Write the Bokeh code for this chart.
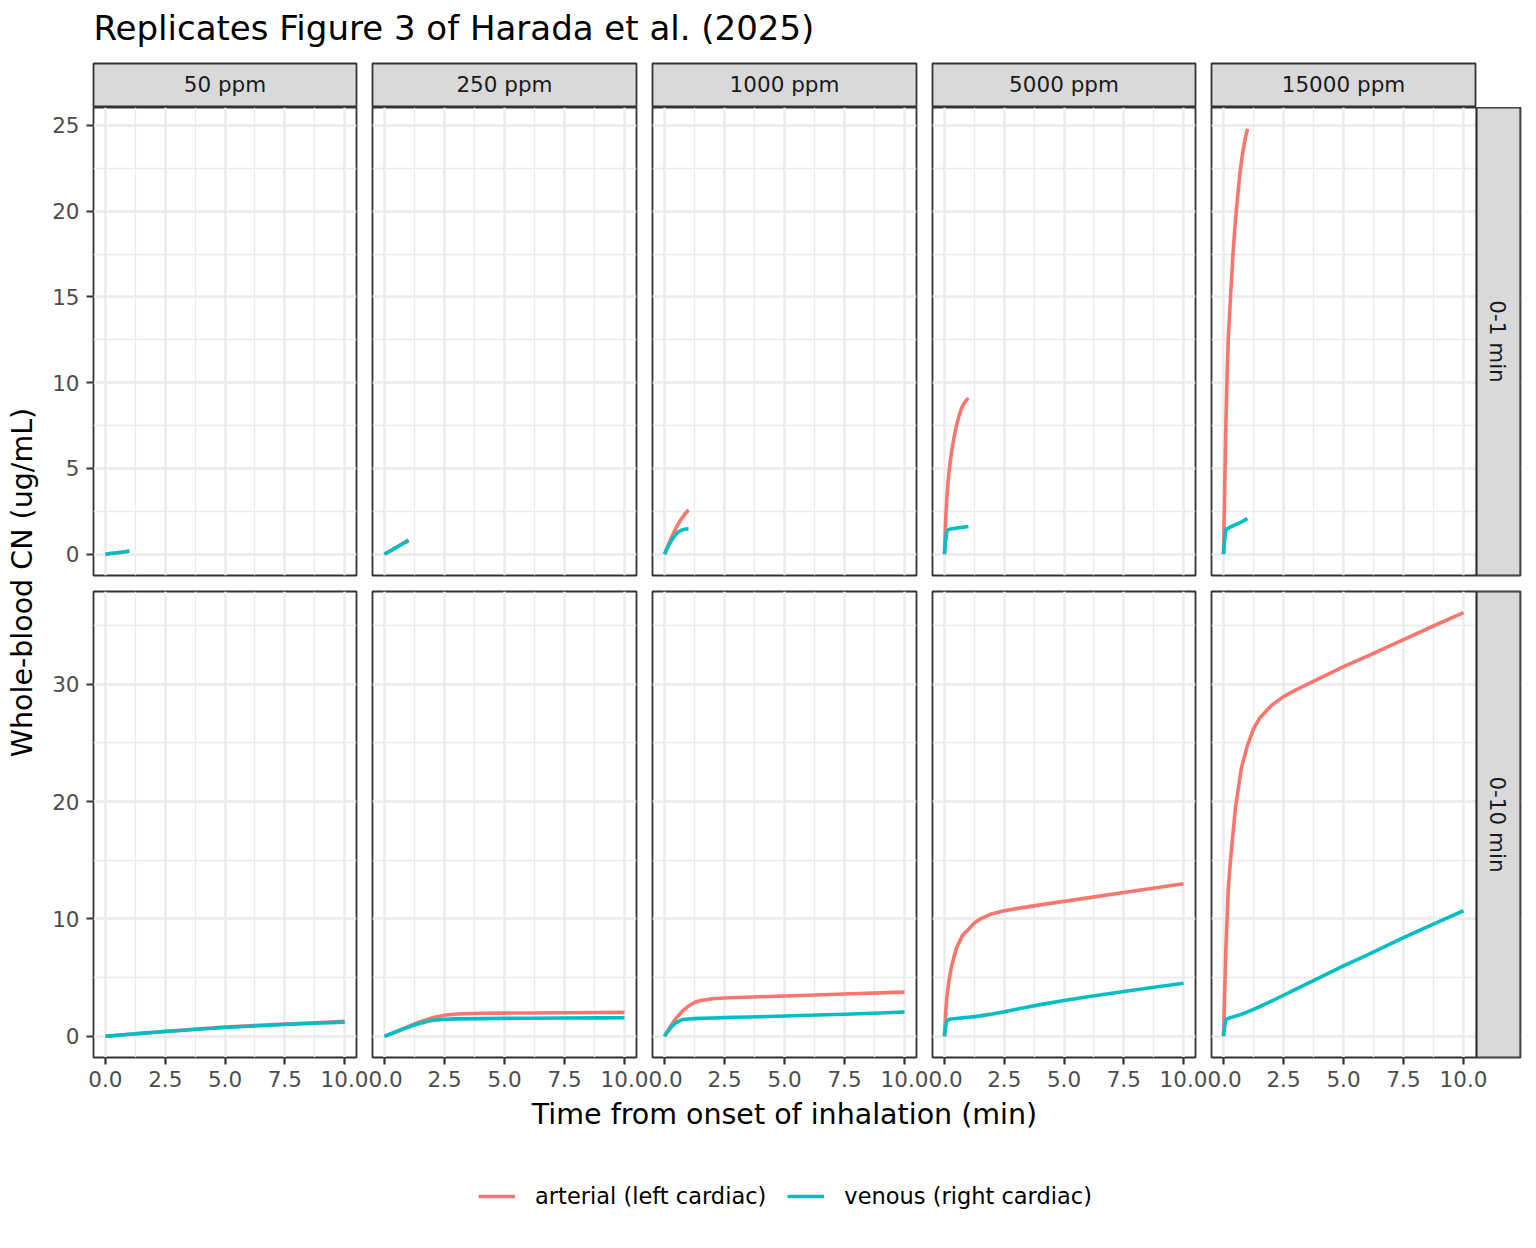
import math
from bokeh.plotting import figure
from bokeh.models import Range1d, FixedTicker, NumeralTickFormatter, Legend, LegendItem
from bokeh.layouts import row, column
from bokeh.core.properties import value
from bokeh.embed import file_html
from bokeh.resources import INLINE

# ---------------- data ----------------
concentrations = ["50 ppm", "250 ppm", "1000 ppm", "5000 ppm", "15000 ppm"]
windows = ["0-1 min", "0-10 min"]
series_labels = ["arterial (left cardiac)", "venous (right cardiac)"]

x_ticks = [0, 2.5, 5, 7.5, 10]
x_minor = [1.25, 3.75, 6.25, 8.75]
y_ticks_short = [0, 5, 10, 15, 20, 25]
y_minor_short = [2.5, 7.5, 12.5, 17.5, 22.5]
y_ticks_long = [0, 10, 20, 30]
y_minor_long = [5, 15, 25, 35]

# 0-1 min window
t_short = [0, 0.05, 0.1, 0.15, 0.2, 0.3, 0.4, 0.5, 0.6, 0.7, 0.8, 0.9, 1.0]
art_short_50 = [0, 0.01, 0.02, 0.03, 0.04, 0.055, 0.075, 0.09, 0.11, 0.125, 0.145, 0.16, 0.18]
ven_short_50 = [0, 0.01, 0.02, 0.03, 0.04, 0.055, 0.07, 0.09, 0.105, 0.12, 0.14, 0.155, 0.17]
art_short_250 = [0, 0.04, 0.08, 0.12, 0.16, 0.24, 0.33, 0.41, 0.5, 0.58, 0.67, 0.76, 0.85]
ven_short_250 = [0, 0.04, 0.08, 0.12, 0.16, 0.24, 0.32, 0.40, 0.48, 0.56, 0.64, 0.71, 0.78]
art_short_1000 = [0, 0.17, 0.35, 0.52, 0.68, 1.0, 1.3, 1.58, 1.83, 2.05, 2.25, 2.42, 2.58]
ven_short_1000 = [0, 0.15, 0.3, 0.45, 0.58, 0.82, 1.03, 1.2, 1.32, 1.40, 1.44, 1.47, 1.48]
art_short_5000 = [0, 2.0, 3.3, 4.2, 4.9, 6.0, 6.8, 7.5, 8.0, 8.45, 8.75, 8.95, 9.1]
ven_short_5000 = [0, 0.8, 1.3, 1.42, 1.45, 1.48, 1.5, 1.52, 1.54, 1.56, 1.58, 1.6, 1.62]
art_short_15000 = [0, 3.8, 7.5, 10.4, 12.6, 15.2, 17.6, 19.5, 21.0, 22.4, 23.4, 24.2, 24.8]
ven_short_15000 = [0, 0.9, 1.42, 1.48, 1.52, 1.6, 1.66, 1.72, 1.78, 1.85, 1.92, 2.0, 2.08]

# 0-10 min window
t_long = [0, 0.05, 0.1, 0.2, 0.3, 0.5, 0.75, 1.0, 1.25, 1.5, 2.0, 2.5, 3.0, 4.0, 5.0, 6.0, 7.5, 9.0, 10.0]
art_long_50 = [0, 0.009, 0.018, 0.036, 0.054, 0.09, 0.135, 0.18, 0.22, 0.26, 0.34, 0.42, 0.5, 0.65, 0.78, 0.9, 1.05, 1.18, 1.27]
ven_long_50 = [0, 0.009, 0.018, 0.035, 0.052, 0.087, 0.13, 0.17, 0.21, 0.25, 0.33, 0.41, 0.48, 0.62, 0.75, 0.86, 1.01, 1.13, 1.21]
art_long_250 = [0, 0.04, 0.08, 0.16, 0.24, 0.41, 0.63, 0.85, 1.05, 1.25, 1.58, 1.8, 1.9, 1.96, 1.98, 1.99, 2.01, 2.03, 2.04]
ven_long_250 = [0, 0.04, 0.08, 0.16, 0.24, 0.4, 0.6, 0.78, 0.96, 1.12, 1.36, 1.45, 1.49, 1.51, 1.53, 1.54, 1.56, 1.57, 1.58]
art_long_1000 = [0, 0.17, 0.35, 0.68, 1.0, 1.58, 2.15, 2.58, 2.88, 3.05, 3.2, 3.27, 3.31, 3.37, 3.43, 3.5, 3.6, 3.7, 3.77]
ven_long_1000 = [0, 0.15, 0.3, 0.58, 0.82, 1.2, 1.42, 1.48, 1.51, 1.53, 1.56, 1.59, 1.62, 1.67, 1.73, 1.79, 1.88, 1.99, 2.07]
art_long_5000 = [0, 2.0, 3.3, 4.9, 6.0, 7.5, 8.6, 9.1, 9.65, 10.0, 10.45, 10.7, 10.88, 11.2, 11.5, 11.8, 12.25, 12.7, 13.0]
ven_long_5000 = [0, 0.8, 1.3, 1.45, 1.48, 1.52, 1.57, 1.62, 1.68, 1.74, 1.9, 2.1, 2.3, 2.7, 3.06, 3.37, 3.82, 4.25, 4.53]
art_long_15000 = [0, 3.8, 7.5, 12.6, 15.2, 19.5, 22.9, 24.8, 26.2, 27.1, 28.2, 28.95, 29.5, 30.5, 31.5, 32.4, 33.8, 35.2, 36.1]
ven_long_15000 = [0, 0.9, 1.42, 1.52, 1.6, 1.72, 1.88, 2.08, 2.3, 2.52, 3.0, 3.5, 4.0, 5.0, 6.0, 6.95, 8.4, 9.8, 10.7]

short_series = [(art_short_50, ven_short_50), (art_short_250, ven_short_250),
                (art_short_1000, ven_short_1000), (art_short_5000, ven_short_5000),
                (art_short_15000, ven_short_15000)]
long_series = [(art_long_50, ven_long_50), (art_long_250, ven_long_250),
               (art_long_1000, ven_long_1000), (art_long_5000, ven_long_5000),
               (art_long_15000, ven_long_15000)]

# ---------------- style ----------------
ART = "#F8766D"
VEN = "#00BFC4"
GRID = "#EBEBEB"
DARK = "#333333"
STRIP_FILL = "#D9D9D9"
FONT = "DejaVu Sans"
TICK_PX = 21.5
STRIP_PX = 21.5
LEG_PX = 22.5
AXT_PX = 28.5
TITLE_PX = 34
LINE_W = 3.6
BASE_SHIFT = 0.37   # rendered baseline sits this many em below the anchor

FRAME_W = [263, 264, 264, 263, 264]
BL = [53, 4, 4, 4, 4]
BR = [12, 12, 12, 12, 2]
STRIP_W = 45
YLAB_W = 40
TITLE_H = 62
STRIP_ROW_H = 45
XLAB_H = 60
LEG_H = 78
WIDE_L, WIDE_R = 49, 1      # shared borders of the full-width text figures
# (top border, frame height, bottom border) per row
ROW_GEOM = [(0, 468, 14), (2, 466, 40)]
TOTAL_W = YLAB_W + sum(BL) + sum(FRAME_W) + sum(BR) + STRIP_W


def px(v):
    return f"{v}px"


def padded(vals_list):
    vals = [v for pair in vals_list for s in pair for v in s]
    lo, hi = min(vals), max(vals)
    span = hi - lo
    return lo - 0.05 * span, hi + 0.05 * span


y_short = padded(short_series)
y_long = padded(long_series)
x_lo, x_hi = -0.5, 10.5


def style_grid(p, yt, ym):
    p.xgrid.ticker = FixedTicker(ticks=x_ticks, minor_ticks=x_minor)
    p.ygrid.ticker = FixedTicker(ticks=yt, minor_ticks=ym)
    for g in list(p.xgrid) + list(p.ygrid):
        g.grid_line_color = GRID
        g.grid_line_width = 2.5
        g.minor_grid_line_color = GRID
        g.minor_grid_line_width = 1.3


def style_axis(ax):
    ax.axis_line_color = None
    ax.major_tick_line_color = DARK
    ax.major_tick_line_width = 2.2
    ax.major_tick_out = 7
    ax.major_tick_in = 0
    ax.minor_tick_line_color = None
    ax.major_label_text_font = FONT
    ax.major_label_text_font_size = px(TICK_PX)
    ax.major_label_text_color = "#4D4D4D"


def make_panel(ci, ri):
    fw = FRAME_W[ci] + (STRIP_W if ci == 4 else 0)
    px_per_min = FRAME_W[ci] / (x_hi - x_lo)
    xr_hi = x_lo + fw / px_per_min
    bt, fh, bb = ROW_GEOM[ri]
    ylo, yhi = y_short if ri == 0 else y_long
    p = figure(width=BL[ci] + fw + BR[ci], height=bt + fh + bb,
               x_range=Range1d(x_lo, xr_hi), y_range=Range1d(ylo, yhi),
               x_axis_location="below" if ri == 1 else None,
               y_axis_location="left" if ci == 0 else None,
               output_backend="svg", toolbar_location=None,
               min_border_left=BL[ci], min_border_right=BR[ci],
               min_border_top=bt, min_border_bottom=bb,
               outline_line_color=DARK, outline_line_width=1.8,
               background_fill_color="white", border_fill_color="white")
    if ri == 0:
        style_grid(p, y_ticks_short, y_minor_short)
    else:
        style_grid(p, y_ticks_long, y_minor_long)
    if ri == 1:
        p.xaxis.ticker = FixedTicker(ticks=x_ticks)
        p.xaxis.formatter = NumeralTickFormatter(format="0.0")
        p.xaxis.major_label_standoff = 6
        style_axis(p.xaxis[0])
    if ci == 0:
        p.yaxis.ticker = FixedTicker(ticks=y_ticks_short if ri == 0 else y_ticks_long)
        p.yaxis.major_label_standoff = 7
        style_axis(p.yaxis[0])
    t = t_short if ri == 0 else t_long
    art, ven = (short_series if ri == 0 else long_series)[ci]
    p.line(t, art, line_color=ART, line_width=LINE_W, line_join="round")
    p.line(t, ven, line_color=VEN, line_width=LINE_W, line_join="round")
    if ci == 4:
        # row strip on the right of the panel
        p.quad(left=[x_hi + 1 / px_per_min], right=[xr_hi], bottom=[ylo], top=[yhi],
               fill_color=STRIP_FILL, line_color=DARK, line_width=2.2)
        base_px = 14 + BASE_SHIFT * STRIP_PX     # baseline 14px right of the strip edge
        p.text(x=[x_hi + base_px / px_per_min], y=[(ylo + yhi) / 2], text=[windows[ri]],
               angle=-math.pi / 2, text_align="center", text_baseline="alphabetic",
               text_font=value(FONT), text_font_size=value(px(STRIP_PX)), text_color="#1A1A1A")
    return p


def canvas_fig(w, h, left=1, right=1):
    # data units are pixels of the frame
    f = figure(width=w, height=h, x_range=Range1d(0, w - left - right), y_range=Range1d(0, h - 2),
               x_axis_location=None, y_axis_location=None,
               output_backend="svg", toolbar_location=None,
               min_border=1, min_border_left=left, min_border_right=right,
               min_border_top=1, min_border_bottom=1,
               outline_line_color=None)
    f.xgrid.visible = False
    f.ygrid.visible = False
    return f


def make_strip(ci):
    fw = FRAME_W[ci]
    br = BR[ci] + (STRIP_W if ci == 4 else 0)
    fh = STRIP_ROW_H - 2
    s = figure(width=BL[ci] + fw + br, height=STRIP_ROW_H,
               x_range=Range1d(0, fw), y_range=Range1d(0, fh),
               x_axis_location=None, y_axis_location=None,
               output_backend="svg", toolbar_location=None,
               min_border_left=BL[ci], min_border_right=br,
               min_border_top=1, min_border_bottom=1,
               outline_line_color=DARK, outline_line_width=1.8,
               background_fill_color=STRIP_FILL, border_fill_color="white")
    s.xgrid.visible = False
    s.ygrid.visible = False
    # visible baseline 14px above the strip bottom
    s.text(x=[fw / 2], y=[14 + BASE_SHIFT * STRIP_PX], text=[concentrations[ci]], text_align="center",
           text_baseline="alphabetic", text_font=value(FONT),
           text_font_size=value(px(STRIP_PX)), text_color="#1A1A1A")
    return s


strips = [make_strip(ci) for ci in range(5)]
top_panels = [make_panel(ci, 0) for ci in range(5)]
bottom_panels = [make_panel(ci, 1) for ci in range(5)]

body_h = STRIP_ROW_H + sum(ROW_GEOM[0]) + sum(ROW_GEOM[1])

# title: left edge page x 93, baseline page y 40
title_fig = canvas_fig(TOTAL_W, TITLE_H, WIDE_L, WIDE_R)
title_fig.text(x=[93 - WIDE_L], y=[TITLE_H - 2 - (40 - 1) + BASE_SHIFT * TITLE_PX],
               text=["Replicates Figure 3 of Harada et al. (2025)"],
               text_align="left", text_baseline="alphabetic", text_font=value(FONT),
               text_font_size=value(px(TITLE_PX)), text_color="black")

# y axis title: baseline page x 32.5, centred on page y 582
ylab_fig = canvas_fig(YLAB_W, body_h)
ylab_fig.text(x=[32.5 - 1 - BASE_SHIFT * AXT_PX], y=[body_h - 2 - (582 - TITLE_H - 1)],
              text=["Whole-blood CN (ug/mL)"],
              angle=math.pi / 2, text_align="center", text_baseline="alphabetic",
              text_font=value(FONT), text_font_size=value(px(AXT_PX)), text_color="black")

# x axis title: centred at page x 784, baseline page y 1125
xlab_top = TITLE_H + body_h
xlab_fig = canvas_fig(TOTAL_W, XLAB_H, WIDE_L, WIDE_R)
xlab_fig.text(x=[784 - WIDE_L], y=[XLAB_H - 2 - (1125 - xlab_top - 1) + BASE_SHIFT * AXT_PX],
              text=["Time from onset of inhalation (min)"],
              text_align="center", text_baseline="alphabetic", text_font=value(FONT),
              text_font_size=value(px(AXT_PX)), text_color="black")

# legend (key renderers hold real data but lie outside the visible range)
leg_fig = figure(width=TOTAL_W, height=LEG_H, x_range=Range1d(0, 1), y_range=Range1d(-2, -1),
                 x_axis_location=None, y_axis_location=None,
                 output_backend="svg", toolbar_location=None,
                 min_border_left=WIDE_L, min_border_right=WIDE_R, min_border_top=1, min_border_bottom=1,
                 outline_line_color=None)
leg_fig.xgrid.visible = False
leg_fig.ygrid.visible = False
r_art = leg_fig.line(t_long, art_long_15000, line_color=ART, line_width=LINE_W)
r_ven = leg_fig.line(t_long, ven_long_15000, line_color=VEN, line_width=LINE_W)
legend = Legend(items=[LegendItem(label=series_labels[0], renderers=[r_art]),
                       LegendItem(label=series_labels[1], renderers=[r_ven])],
                orientation="horizontal", location="center",
                glyph_width=37, glyph_height=22, label_standoff=20, spacing=21,
                padding=0, margin=0, border_line_color=None, background_fill_alpha=0,
                label_text_font=FONT, label_text_font_size=px(LEG_PX), label_text_color="black")
leg_fig.add_layout(legend)

layout = column(
    title_fig,
    row(ylab_fig, column(row(*strips), row(*top_panels), row(*bottom_panels))),
    xlab_fig,
    leg_fig,
)

open("out.html", "w").write(file_html(layout, INLINE, title="Harada Figure 3"))
